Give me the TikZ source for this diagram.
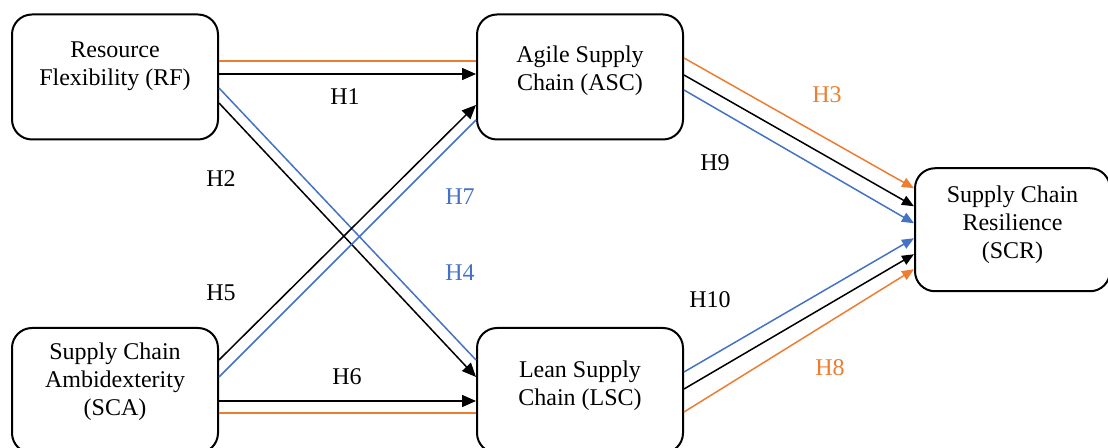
\documentclass[tikz,border=0pt]{standalone}
\usepackage{fontspec}
\setmainfont{Liberation Serif}
\usepackage{tikz}
\usetikzlibrary{arrows.meta, positioning, calc}
\definecolor{hyorange}{HTML}{ED7D31}
\definecolor{hyblue}{HTML}{4472C4}

\begin{document}
\begin{tikzpicture}[
    x=0.5pt, y=-0.5pt,
    font=\fontsize{12}{14}\selectfont,
    box/.style={rectangle, draw, rounded corners=10pt, line width=1pt, minimum width=103pt, minimum height=62.5pt, inner sep=0pt},
    txt/.style={align=center, inner sep=0pt},
    arrow/.style={-{Triangle[length=7pt, width=6pt]}, line width=0.75pt},
    arrowsm/.style={-{Triangle[length=6pt, width=5pt]}, line width=0.75pt},
    link/.style={line width=0.75pt},
    hyp/.style={inner sep=1pt}
]
\useasboundingbox (0,0) rectangle (1108,448);

\node[box, label={[txt, yshift=5.5pt]center:Resource\\Flexibility (RF)}] (rf) at (115,77) {};
\node[box, right=128.5pt of rf, label={[txt, yshift=3pt]center:Agile Supply\\Chain (ASC)}] (asc) {};
\node[box, below=93.25pt of rf, label={[txt, yshift=4.25pt]center:Supply Chain\\Ambidexterity\\(SCA)}] (sca) {};
\node[box, right=128.5pt of sca, label={[txt, yshift=2.25pt]center:Lean Supply\\Chain (LSC)}] (lsc) {};
\coordinate (mid) at ($(asc.east)!0.5!(lsc.east)$);
\node[box, right=115pt of mid, yshift=2pt, minimum width=97.5pt, minimum height=61.5pt, label={[txt, yshift=2.5pt]center:Supply Chain\\Resilience\\(SCR)}] (scr) {};

\draw[link, hyorange] ([yshift=8pt]rf.east) -- ([yshift=8pt]asc.west);
\draw[arrow] ([yshift=1.5pt]rf.east) -- ([yshift=1.5pt]asc.west);
\draw[link, hyblue] ([yshift=-5.5pt]rf.east) -- ([yshift=15.25pt]lsc.west);
\draw[arrow] ([yshift=-13pt]rf.east) -- ([yshift=6.75pt]lsc.west);
\draw[arrow] ([yshift=15.25pt]sca.east) -- ([yshift=-14pt]asc.west);
\draw[link, hyblue] ([yshift=6.75pt]sca.east) -- ([yshift=-21.5pt]asc.west);
\draw[arrow] ([yshift=-5.25pt]sca.east) -- ([yshift=-5.25pt]lsc.west);
\draw[link, hyorange] ([yshift=-11.25pt]sca.east) -- ([yshift=-11.25pt]lsc.west);

\draw[arrowsm, hyorange] ([yshift=9.5pt]asc.east) -- ([yshift=20.75pt]scr.west);
\draw[arrowsm] ([yshift=1pt]asc.east) -- ([yshift=11.75pt]scr.west);
\draw[arrowsm, hyblue] ([yshift=-6.5pt]asc.east) -- ([yshift=3.25pt]scr.west);
\draw[arrowsm, hyblue] ([yshift=9.25pt]lsc.east) -- ([yshift=-4.25pt]scr.west);
\draw[arrowsm] ([yshift=0.75pt]lsc.east) -- ([yshift=-12.25pt]scr.west);
\draw[arrowsm, hyorange] ([yshift=-10.75pt]lsc.east) -- ([yshift=-19.75pt]scr.west);

\node[hyp] (h1) at (345,97) {H1};
\node[hyp] (h2) at (221,179) {H2};
\node[hyp] (h5) at (221,293) {H5};
\node[hyp, hyblue] (h7) at (460,197) {H7};
\node[hyp, hyblue] (h4) at (460,273) {H4};
\node[hyp] (h6) at (347,377) {H6};
\node[hyp, hyorange] (h3) at (827,95) {H3};
\node[hyp] (h9) at (715,163) {H9};
\node[hyp] (h10) at (710,300) {H10};
\node[hyp, hyorange] (h8) at (830,368) {H8};

\end{tikzpicture}
\end{document}
